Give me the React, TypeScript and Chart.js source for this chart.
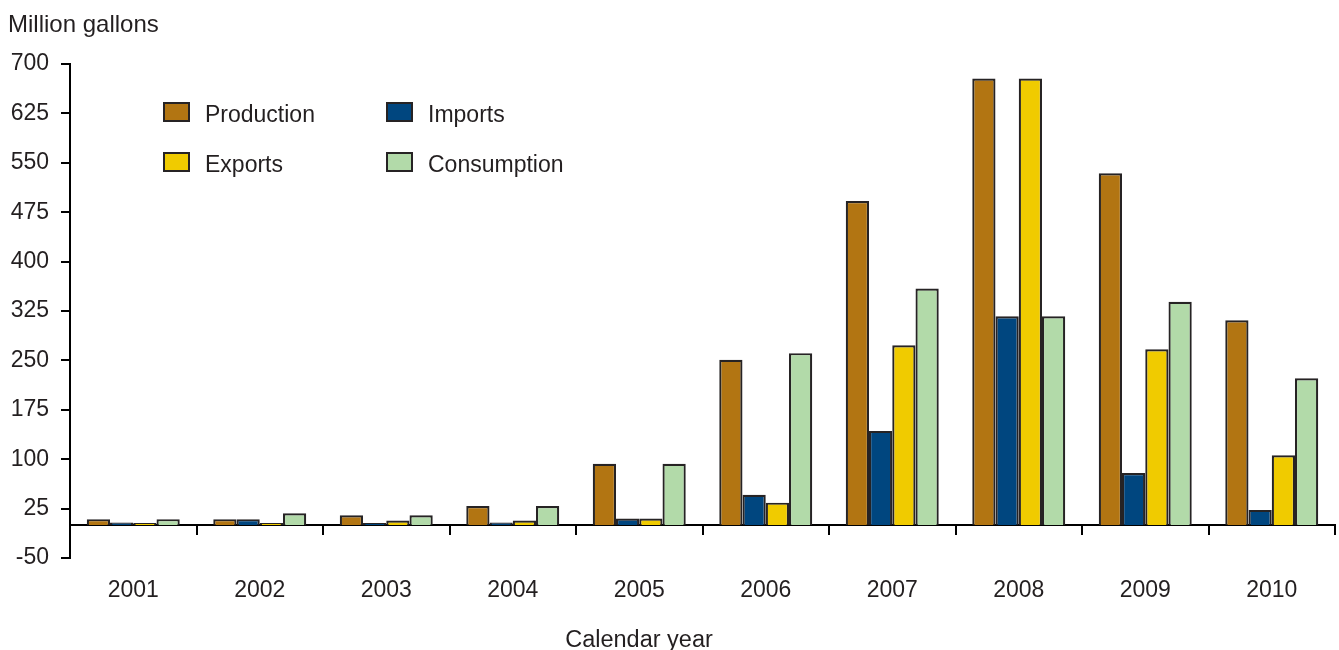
import React, { useEffect, useRef } from "react";
import { Chart, registerables } from "chart.js";

Chart.register(...registerables);

const years = ["2001", "2002", "2003", "2004", "2005", "2006", "2007", "2008", "2009", "2010"];
const production = [9, 9, 15, 29, 93, 251, 492, 678, 534, 311];
const imports = [4, 9, 3, 4, 10, 46, 143, 317, 79, 23];
const exportsData = [3, 3, 7, 7, 10, 34, 273, 678, 267, 106];
const consumption = [9, 18, 15, 29, 93, 261, 359, 317, 339, 223];
const yTicks = [-50, 25, 100, 175, 250, 325, 400, 475, 550, 625, 700];

const seriesNames = ["Production", "Imports", "Exports", "Consumption"];
const seriesColors = ["#B27512", "#00467F", "#F0CB00", "#B2DAA9"];
const yTitle = "Million gallons";
const xTitle = "Calendar year";
const borderColor = "#262324";
const textColor = "#231F20";
const fontFamily = "'Liberation Sans', Arial, Helvetica, sans-serif";

const legendLayout = [
  { name: "Production", color: seriesColors[0], bx: 163, by: 102, tx: 205, ty: 100 },
  { name: "Imports", color: seriesColors[1], bx: 386, by: 102, tx: 428, ty: 100 },
  { name: "Exports", color: seriesColors[2], bx: 163, by: 152, tx: 205, ty: 150 },
  { name: "Consumption", color: seriesColors[3], bx: 386, by: 152, tx: 428, ty: 150 },
];

export default function App() {
  const canvasRef = useRef<HTMLCanvasElement | null>(null);

  useEffect(() => {
    if (!canvasRef.current) return;
    const values = [production, imports, exportsData, consumption];
    const chart = new Chart(canvasRef.current, {
      type: "bar",
      data: {
        labels: years,
        datasets: seriesNames.map((name, i) => ({
          label: name,
          data: values[i],
          backgroundColor: seriesColors[i],
          borderColor: borderColor,
          borderWidth: 2.2,
          xAxisID: "x",
          yAxisID: "y",
          categoryPercentage: 0.735,
          barPercentage: 1,
        })),
      },
      options: {
        animation: false,
        responsive: true,
        maintainAspectRatio: false,
        layout: { padding: { left: 8, right: 4, top: 0, bottom: 0 } },
        plugins: {
          legend: { display: false },
          tooltip: { enabled: false },
          title: {
            display: true,
            text: yTitle,
            align: "start",
            color: textColor,
            font: { family: fontFamily, size: 24, weight: "normal", lineHeight: 1.2 },
            padding: { top: 11, bottom: 24.2 },
          },
        },
        scales: {
          x: {
            type: "category",
            position: "bottom",
            offset: true,
            grid: { display: false, offset: true },
            border: { display: false },
            ticks: {
              color: textColor,
              font: { family: fontFamily, size: 23, lineHeight: 1.2 },
              padding: 11,
              maxRotation: 0,
              autoSkip: false,
            },
            afterFit: (scale: any) => {
              scale.height = 92;
            },
          },
          x0: {
            type: "category",
            position: { y: 0 } as any,
            offset: true,
            grid: {
              display: true,
              offset: true,
              drawOnChartArea: false,
              drawTicks: true,
              tickLength: 9,
              color: "#000000",
              lineWidth: 2,
            },
            border: { display: true, color: "#000000", width: 2 },
            ticks: { display: false },
          },
          y: {
            type: "linear",
            position: "left",
            min: -50,
            max: 700,
            grid: {
              display: true,
              drawOnChartArea: false,
              drawTicks: true,
              tickLength: 9,
              color: "#000000",
              lineWidth: 2,
            },
            border: { display: true, color: "#000000", width: 2 },
            afterBuildTicks: (scale: any) => {
              scale.ticks = yTicks.map((v) => ({ value: v }));
            },
            ticks: {
              color: textColor,
              font: { family: fontFamily, size: 23, lineHeight: 1.2 },
              padding: 12,
            },
            afterFit: (scale: any) => {
              scale.width = 62;
            },
          },
        },
      },
    });
    return () => chart.destroy();
  }, []);

  return (
    <div style={{ position: "absolute", left: 0, top: 0, width: 1339, height: 650, background: "#ffffff", overflow: "hidden" }}>
      <canvas ref={canvasRef} />
      {legendLayout.map((item) => (
        <React.Fragment key={item.name}>
          <div
            style={{
              position: "absolute",
              left: item.bx,
              top: item.by,
              width: 27,
              height: 20,
              boxSizing: "border-box",
              border: `2px solid ${borderColor}`,
              background: item.color,
            }}
          />
          <div
            style={{
              position: "absolute",
              left: item.tx,
              top: item.ty,
              height: 28,
              lineHeight: "28px",
              fontSize: 23,
              fontFamily: fontFamily,
              color: textColor,
              whiteSpace: "nowrap",
            }}
          >
            {item.name}
          </div>
        </React.Fragment>
      ))}
      <div
        style={{
          position: "absolute",
          left: 539,
          width: 200,
          top: 625,
          height: 28,
          lineHeight: "28px",
          textAlign: "center",
          fontSize: 23.5,
          fontFamily: fontFamily,
          color: textColor,
          whiteSpace: "nowrap",
        }}
      >
        {xTitle}
      </div>
    </div>
  );
}
